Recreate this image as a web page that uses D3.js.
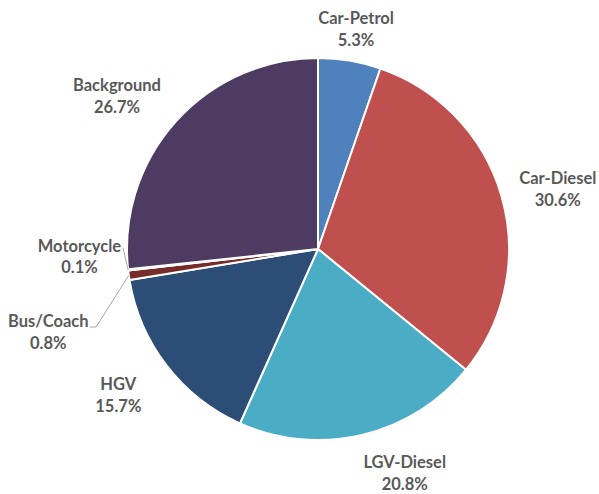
<!DOCTYPE html>
<html>
<head>
<meta charset="utf-8">
<script src="https://cdn.jsdelivr.net/npm/d3@7/dist/d3.min.js"></script>
<style>
  html, body { margin: 0; padding: 0; background: #fff; }
  svg { display: block; }
</style>
</head>
<body>
<svg id="chart" width="599" height="494"></svg>
<script>
// Share of emissions by source (%)
const categories = ["Car-Petrol", "Car-Diesel", "LGV-Diesel", "HGV", "Bus/Coach", "Motorcycle", "Background"];
const shares = [5.3, 30.6, 20.8, 15.7, 0.8, 0.1, 26.7];
const colors = ["#4F81BD", "#C0504D", "#4BACC6", "#2C4D75", "#772C2A", "#5F7530", "#4D3B62"];

// Label nudges relative to the default outside placement
const labelNudge = [[-2, 1], [7, 0], [31, 2], [-8, 6], [-30, 50], [2, -19], [-21, -4]];
// Slices whose labels are joined to the pie by a leader line
const leaderBend = { "Bus/Coach": [[96, 327], [90, 327]], "Motorcycle": [[123, 248]] };

const svg = d3.select("#chart");
const cx = 318, cy = 249, R = 191;
const g = svg.append("g").attr("transform", `translate(${cx},${cy})`);

const data = categories.map((c, i) => ({ name: c, value: shares[i], color: colors[i], nudge: labelNudge[i] }));

const pie = d3.pie().value(d => d.value).sort(null);
const arcs = pie(data);
const arc = d3.arc().innerRadius(0).outerRadius(R);

g.selectAll("path.slice")
  .data(arcs)
  .join("path")
  .attr("class", "slice")
  .attr("d", arc)
  .attr("fill", d => d.data.color)
  .attr("stroke", "#fff")
  .attr("stroke-width", 2)
  .attr("stroke-linejoin", "round");

const fmt = d3.format(".1f");
const halfW = 38, halfH = 22;

arcs.forEach(a => {
  const mid = (a.startAngle + a.endAngle) / 2;
  const s = Math.sin(mid), c = Math.cos(mid);
  const ax = (R + 13) * s, ay = -(R + 13) * c;
  const lx = ax + s * halfW + a.data.nudge[0];
  const ly = ay - c * halfH + a.data.nudge[1];

  const bend = leaderBend[a.data.name];
  if (bend) {
    const pts = [[R * s, -R * c]].concat(bend.map(p => [p[0] - cx, p[1] - cy]));
    g.append("path")
      .attr("d", d3.line()(pts))
      .attr("fill", "none")
      .attr("stroke", "#A6A6A6")
      .attr("stroke-width", 1);
  }

  const t = g.append("text")
    .attr("x", lx)
    .attr("y", ly)
    .attr("text-anchor", "middle")
    .attr("font-family", "Lato, 'Open Sans', sans-serif")
    .attr("font-weight", "bold")
    .attr("font-size", 16.5)
    .attr("fill", "#595959");
  t.append("tspan").attr("x", lx).attr("dy", "-0.2em").text(a.data.name);
  t.append("tspan").attr("x", lx).attr("dy", 22).text(fmt(a.data.value) + "%");
});
</script>
</body>
</html>
